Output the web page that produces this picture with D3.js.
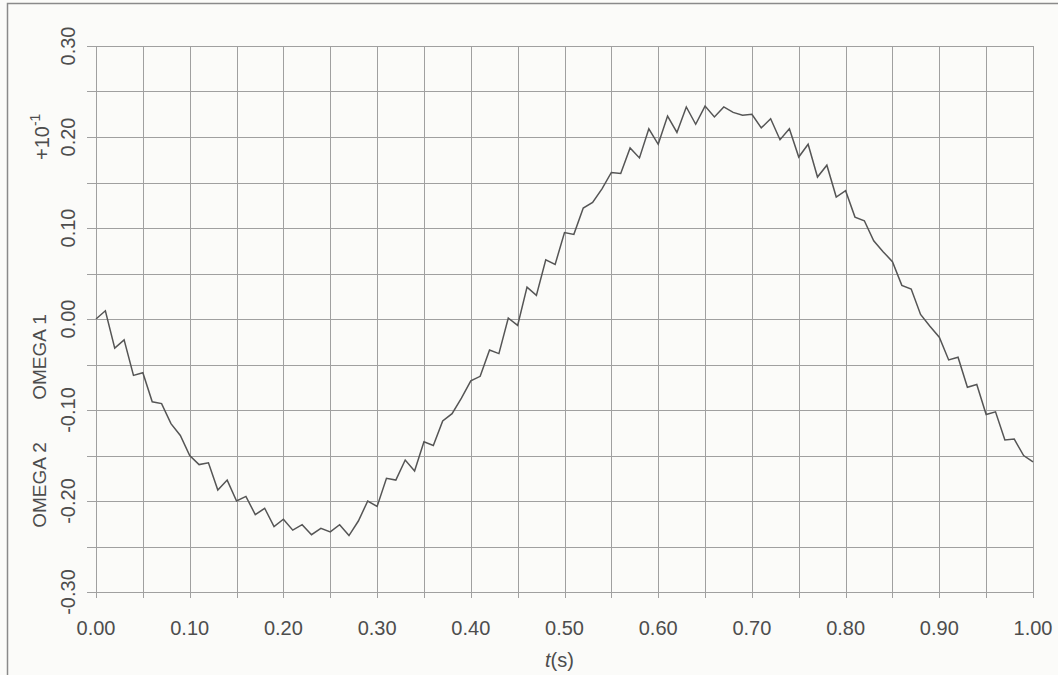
<!DOCTYPE html>
<html>
<head>
<meta charset="utf-8">
<script src="https://cdn.jsdelivr.net/npm/d3@7"></script>
<style>
  body { margin: 0; background: #fbfbf9; }
  svg { display: block; font-family: "Liberation Sans", Arial, sans-serif; }
</style>
</head>
<body>
<div id="chart"></div>
<script>
// time samples (s) and omega values (x 10^-1)
var times = [
  0.00, 0.01, 0.02, 0.03, 0.04, 0.05, 0.06, 0.07, 0.08, 0.09,
  0.10, 0.11, 0.12, 0.13, 0.14, 0.15, 0.16, 0.17, 0.18, 0.19,
  0.20, 0.21, 0.22, 0.23, 0.24, 0.25, 0.26, 0.27, 0.28, 0.29,
  0.30, 0.31, 0.32, 0.33, 0.34, 0.35, 0.36, 0.37, 0.38, 0.39,
  0.40, 0.41, 0.42, 0.43, 0.44, 0.45, 0.46, 0.47, 0.48, 0.49,
  0.50, 0.51, 0.52, 0.53, 0.54, 0.55, 0.56, 0.57, 0.58, 0.59,
  0.60, 0.61, 0.62, 0.63, 0.64, 0.65, 0.66, 0.67, 0.68, 0.69,
  0.70, 0.71, 0.72, 0.73, 0.74, 0.75, 0.76, 0.77, 0.78, 0.79,
  0.80, 0.81, 0.82, 0.83, 0.84, 0.85, 0.86, 0.87, 0.88, 0.89,
  0.90, 0.91, 0.92, 0.93, 0.94, 0.95, 0.96, 0.97, 0.98, 0.99,
  1.00
];
var omega = [
  0.000, 0.009, -0.032, -0.023, -0.062, -0.059, -0.091, -0.093, -0.115, -0.128,
  -0.150, -0.160, -0.158, -0.188, -0.177, -0.200, -0.195, -0.215, -0.208, -0.228,
  -0.220, -0.232, -0.226, -0.237, -0.230, -0.234, -0.226, -0.238, -0.222, -0.200,
  -0.206, -0.175, -0.177, -0.155, -0.167, -0.135, -0.139, -0.112, -0.104, -0.087,
  -0.068, -0.063, -0.034, -0.038, 0.001, -0.007, 0.035, 0.026, 0.065, 0.060,
  0.095, 0.093, 0.122, 0.128, 0.143, 0.161, 0.160, 0.188, 0.177, 0.209,
  0.192, 0.223, 0.205, 0.233, 0.214, 0.234, 0.222, 0.233, 0.227, 0.224,
  0.225, 0.210, 0.220, 0.197, 0.209, 0.178, 0.192, 0.156, 0.169, 0.134,
  0.141, 0.112, 0.108, 0.086, 0.074, 0.063, 0.037, 0.033, 0.005, -0.008,
  -0.020, -0.045, -0.042, -0.075, -0.072, -0.105, -0.102, -0.133, -0.132, -0.150,
  -0.157
];
var xTickLabels = ["0.00", "0.10", "0.20", "0.30", "0.40", "0.50", "0.60", "0.70", "0.80", "0.90", "1.00"];
var yTickLabels = ["-0.30", "-0.20", "-0.10", "0.00", "0.10", "0.20", "0.30"];

var width = 1058;
var height = 675;
var ink = "#4d4d4d";

var svg = d3
  .select("#chart")
  .append("svg")
  .attr("width", width)
  .attr("height", height);

var x = d3.scaleLinear().domain([0, 1]).range([96, 1033]);
var y = d3.scaleLinear().domain([-0.3, 0.3]).range([592, 46]);

// page frame
svg.append("path")
  .attr("d", "M7.5,675 V3.5 H1058")
  .attr("fill", "none")
  .attr("stroke", "#8a8a8a")
  .attr("stroke-width", 1.5);

// grid every 0.05, with short ticks outside the plot
var grid = svg.append("g").attr("class", "grid");
grid.selectAll("line.v")
  .data(x.ticks(20))
  .enter()
  .append("line")
  .attr("class", "v")
  .attr("x1", function(d) { return Math.round(x(d)) + 0.5; })
  .attr("x2", function(d) { return Math.round(x(d)) + 0.5; })
  .attr("y1", y(0.3))
  .attr("y2", y(-0.3) + 6)
  .attr("stroke", "#a0a0a0")
  .attr("stroke-width", 1);
grid.selectAll("line.h")
  .data(y.ticks(12))
  .enter()
  .append("line")
  .attr("class", "h")
  .attr("x1", x(0) - 9)
  .attr("x2", x(1))
  .attr("y1", function(d) { return Math.round(y(d)) + 0.5; })
  .attr("y2", function(d) { return Math.round(y(d)) + 0.5; })
  .attr("stroke", "#a0a0a0")
  .attr("stroke-width", 1);

// x tick labels
svg.append("g")
  .selectAll("text")
  .data(xTickLabels)
  .enter()
  .append("text")
  .attr("x", function(d) { return x(+d); })
  .attr("y", 635)
  .attr("text-anchor", "middle")
  .attr("font-size", 20)
  .attr("fill", ink)
  .text(function(d) { return d; });

svg.append("text")
  .attr("x", 545)
  .attr("y", 667)
  .attr("font-size", 20)
  .attr("fill", ink)
  .html('<tspan font-style="italic">t</tspan>(s)');

// y tick labels, rotated
svg.append("g")
  .selectAll("text")
  .data(yTickLabels)
  .enter()
  .append("text")
  .attr("transform", function(d) {
    return "translate(75," + y(+d) + ") rotate(-90)";
  })
  .attr("text-anchor", "middle")
  .attr("font-size", 20)
  .attr("fill", ink)
  .text(function(d) { return d; });

// axis titles
var yTitles = [
  { text: "OMEGA 1", pos: 357 },
  { text: "OMEGA 2", pos: 485 }
];
svg.append("g")
  .selectAll("text")
  .data(yTitles)
  .enter()
  .append("text")
  .attr("transform", function(d) { return "translate(46," + d.pos + ") rotate(-90)"; })
  .attr("text-anchor", "middle")
  .attr("font-size", 19)
  .attr("fill", ink)
  .text(function(d) { return d.text; });

svg.append("text")
  .attr("transform", "translate(49,160) rotate(-90)")
  .attr("font-size", 20)
  .attr("fill", ink)
  .html('+10<tspan dy="-9" font-size="14">-1</tspan>');

// curve
var line = d3.line()
  .x(function(d, i) { return x(times[i]); })
  .y(function(d) { return y(d); });

svg.append("path")
  .datum(omega)
  .attr("d", line)
  .attr("fill", "none")
  .attr("stroke", "#555555")
  .attr("stroke-width", 1.5)
  .attr("stroke-linejoin", "miter");
</script>
</body>
</html>
